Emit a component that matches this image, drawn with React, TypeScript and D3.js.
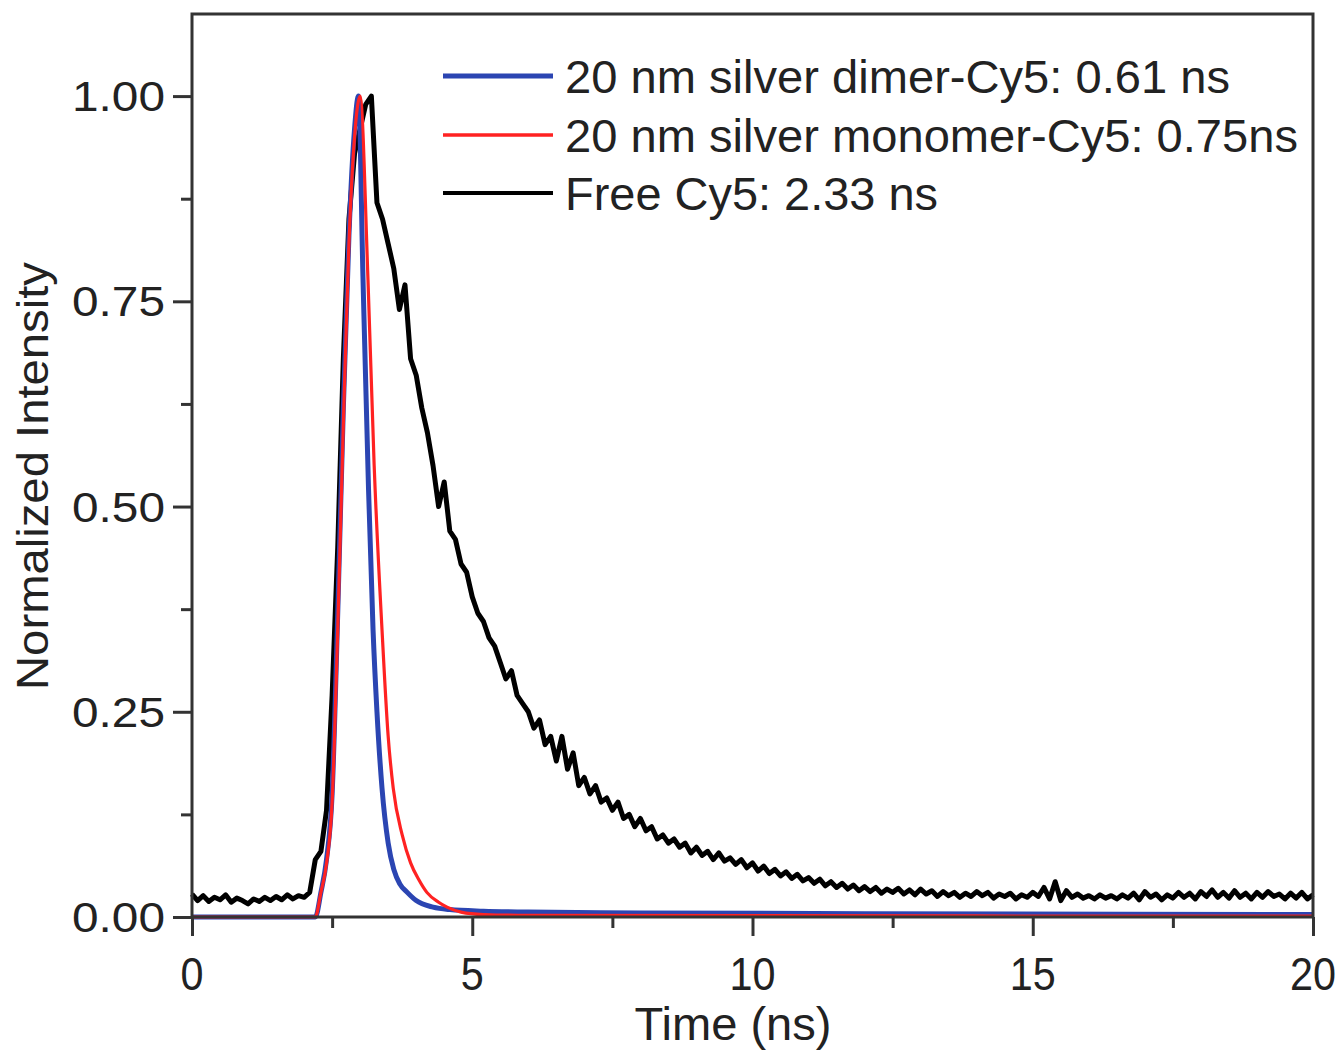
import React, { useRef, useEffect } from "react";
import * as d3 from "d3";

const W = 1343;
const H = 1055;

// 20 nm silver dimer-Cy5 (blue)
const dimerT = [0, 2.2, 2.3, 2.4, 2.5, 2.6, 2.7, 2.8, 2.9, 2.97, 3.05, 3.15, 3.23, 3.3, 3.39, 3.5, 3.6, 3.71, 3.84, 4.0, 4.3, 4.6, 5.2, 6, 8, 12, 20];
const dimerV = [0, 0.0, 0.03, 0.07, 0.15, 0.37, 0.62, 0.83, 0.96, 1.0, 0.78, 0.52, 0.35, 0.25, 0.157, 0.09, 0.058, 0.04, 0.03, 0.02, 0.012, 0.009, 0.007, 0.006, 0.005, 0.004, 0.003];

// 20 nm silver monomer-Cy5 (red)
const monoT = [0, 2.2, 2.3, 2.4, 2.5, 2.6, 2.7, 2.8, 2.9, 3.0, 3.14, 3.25, 3.39, 3.5, 3.59, 3.75, 3.9, 4.05, 4.19, 4.4, 4.55, 4.8, 5.2, 6, 20];
const monoV = [0, 0.0, 0.03, 0.065, 0.14, 0.35, 0.6, 0.82, 0.95, 1.0, 0.776, 0.55, 0.35, 0.22, 0.157, 0.1, 0.066, 0.045, 0.03, 0.018, 0.012, 0.006, 0.003, 0.002, 0.001];

// Free Cy5 (black), sampled every 0.1 ns from 0 to 20 ns
const freeStep = 0.1;
const freeV = [
  0.028, 0.020, 0.026, 0.019, 0.024, 0.021, 0.027, 0.018, 0.023, 0.020,
  0.016, 0.022, 0.019, 0.024, 0.020, 0.025, 0.021, 0.027, 0.022, 0.026,
  0.024, 0.030, 0.070, 0.080, 0.13, 0.27, 0.45, 0.68, 0.85, 0.93,
  0.96, 0.99, 1.00, 0.87, 0.85, 0.82, 0.79, 0.74, 0.77, 0.68,
  0.66, 0.62, 0.59, 0.55, 0.50, 0.53, 0.47, 0.46, 0.43, 0.42,
  0.39, 0.37, 0.36, 0.34, 0.33, 0.31, 0.29, 0.30, 0.27, 0.26,
  0.25, 0.23, 0.24, 0.21, 0.22, 0.19, 0.22, 0.18, 0.20, 0.16,
  0.17, 0.15, 0.16, 0.14, 0.145, 0.13, 0.14, 0.12, 0.125, 0.11,
  0.12, 0.105, 0.11, 0.095, 0.10, 0.09, 0.095, 0.085, 0.09, 0.078,
  0.085, 0.075, 0.08, 0.07, 0.078, 0.068, 0.072, 0.064, 0.07, 0.06,
  0.066, 0.056, 0.062, 0.053, 0.058, 0.05, 0.055, 0.047, 0.052, 0.044,
  0.048, 0.041, 0.046, 0.038, 0.043, 0.036, 0.041, 0.034, 0.039, 0.032,
  0.037, 0.031, 0.036, 0.029, 0.034, 0.030, 0.035, 0.028, 0.033, 0.027,
  0.034, 0.028, 0.032, 0.025, 0.031, 0.026, 0.030, 0.024, 0.029, 0.025,
  0.031, 0.026, 0.030, 0.023, 0.028, 0.025, 0.029, 0.022, 0.027, 0.024,
  0.030, 0.025, 0.036, 0.022, 0.043, 0.020, 0.032, 0.024, 0.028, 0.023,
  0.026, 0.022, 0.027, 0.023, 0.026, 0.022, 0.027, 0.023, 0.029, 0.021,
  0.031, 0.024, 0.028, 0.021, 0.027, 0.023, 0.030, 0.024, 0.029, 0.022,
  0.031, 0.025, 0.033, 0.024, 0.030, 0.023, 0.032, 0.024, 0.029, 0.022,
  0.030, 0.024, 0.031, 0.025, 0.028, 0.022, 0.029, 0.023, 0.030, 0.022,
  0.027,
];

const xTicks = [0, 5, 10, 15, 20];
const xMinor = [2.5, 7.5, 12.5, 17.5];
const yTicks = [0, 0.25, 0.5, 0.75, 1.0];
const yMinor = [0.125, 0.375, 0.625, 0.875];

const legendLabels = [
  "20 nm silver dimer-Cy5: 0.61 ns",
  "20 nm silver monomer-Cy5: 0.75ns",
  "Free Cy5: 2.33 ns",
];
const legendColors = ["#2b45b2", "#ff2222", "#000000"];
const legendWidths = [665, 733, 373];

const FONT = "'Liberation Sans', Arial, Helvetica, sans-serif";

const App = () => {
  const svgRef = useRef(null);

  useEffect(() => {
    document.body.style.margin = "0";
    const svg = d3.select(svgRef.current).attr("width", W).attr("height", H).html("");

    const x = d3.scaleLinear().domain([0, 20]).range([192, 1313]);
    const y = d3.scaleLinear().domain([0, 1.1]).range([917, 14]);
    const axisColor = "#333";
    const textColor = "#222";

    svg.append("rect").attr("width", W).attr("height", H).attr("fill", "#fff");

    // curves
    const line = d3
      .line()
      .x((d) => x(d[0]))
      .y((d) => y(d[1]));

    const freeData = freeV.map((v, i) => [i * freeStep, v]);
    const dimerData = dimerT.map((t, i) => [t, dimerV[i]]);
    const monoData = monoT.map((t, i) => [t, monoV[i]]);

    svg
      .append("path")
      .datum(freeData)
      .attr("d", line.curve(d3.curveLinear))
      .attr("fill", "none")
      .attr("stroke", legendColors[2])
      .attr("stroke-width", 5)
      .attr("stroke-linejoin", "round");

    svg
      .append("path")
      .datum(dimerData)
      .attr("d", line.curve(d3.curveMonotoneX))
      .attr("fill", "none")
      .attr("stroke", legendColors[0])
      .attr("stroke-width", 5);

    svg
      .append("path")
      .datum(monoData)
      .attr("d", line.curve(d3.curveMonotoneX))
      .attr("fill", "none")
      .attr("stroke", legendColors[1])
      .attr("stroke-width", 3.2);

    // frame
    svg
      .append("rect")
      .attr("x", x(0))
      .attr("y", y(1.1))
      .attr("width", x(20) - x(0))
      .attr("height", y(0) - y(1.1))
      .attr("fill", "none")
      .attr("stroke", axisColor)
      .attr("stroke-width", 3);

    // ticks (major and minor in their own groups)
    const addTicks = (axis, transform) => {
      const g = svg.append("g").attr("transform", transform);
      g.call(axis);
      g.selectAll(".domain").remove();
      g.selectAll("line").attr("stroke", axisColor).attr("stroke-width", 3);
    };
    const xT = `translate(0,${y(0)})`;
    const yT = `translate(${x(0)},0)`;
    addTicks(d3.axisBottom(x).tickValues(xTicks).tickSize(19).tickFormat(() => ""), xT);
    addTicks(d3.axisBottom(x).tickValues(xMinor).tickSize(11).tickFormat(() => ""), xT);
    addTicks(d3.axisLeft(y).tickValues(yTicks).tickSize(19).tickFormat(() => ""), yT);
    addTicks(d3.axisLeft(y).tickValues(yMinor).tickSize(11).tickFormat(() => ""), yT);

    // tick labels
    svg
      .append("g")
      .selectAll("text")
      .data(xTicks)
      .join("text")
      .attr("x", (d) => x(d))
      .attr("y", 990)
      .attr("text-anchor", "middle")
      .attr("font-family", FONT)
      .attr("font-size", 47)
      .attr("fill", textColor)
      .attr("textLength", (d) => String(d).length * 23)
      .attr("lengthAdjust", "spacingAndGlyphs")
      .text((d) => String(d));

    svg
      .append("g")
      .selectAll("text")
      .data(yTicks)
      .join("text")
      .attr("x", 165)
      .attr("y", (d) => y(d) + 15)
      .attr("text-anchor", "end")
      .attr("font-family", FONT)
      .attr("font-size", 42)
      .attr("fill", textColor)
      .attr("textLength", 93)
      .attr("lengthAdjust", "spacingAndGlyphs")
      .text((d) => d.toFixed(2));

    // axis titles
    svg
      .append("text")
      .attr("x", 733)
      .attr("y", 1040)
      .attr("text-anchor", "middle")
      .attr("font-family", FONT)
      .attr("font-size", 46)
      .attr("fill", textColor)
      .attr("textLength", 197)
      .attr("lengthAdjust", "spacingAndGlyphs")
      .text("Time (ns)");

    svg
      .append("text")
      .attr("transform", "translate(48,476) rotate(-90)")
      .attr("text-anchor", "middle")
      .attr("font-family", FONT)
      .attr("font-size", 45)
      .attr("fill", textColor)
      .attr("textLength", 428)
      .attr("lengthAdjust", "spacingAndGlyphs")
      .text("Normalized Intensity");

    // legend
    const legendY = [76, 135, 193];
    const legendStroke = [5, 3.5, 4];
    const lg = svg.append("g");
    legendLabels.forEach((label, i) => {
      lg.append("line")
        .attr("x1", 443)
        .attr("x2", 553)
        .attr("y1", legendY[i])
        .attr("y2", legendY[i])
        .attr("stroke", legendColors[i])
        .attr("stroke-width", legendStroke[i]);
      lg.append("text")
        .attr("x", 565)
        .attr("y", legendY[i] + 17)
        .attr("font-family", FONT)
        .attr("font-size", 47)
        .attr("fill", textColor)
        .attr("textLength", legendWidths[i])
        .attr("lengthAdjust", "spacingAndGlyphs")
        .text(label);
    });
  }, []);

  return <svg ref={svgRef} style={{ display: "block" }} />;
};

export default App;
